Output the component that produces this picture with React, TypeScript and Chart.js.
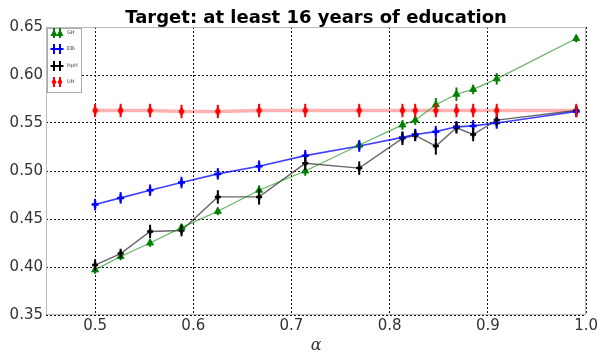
import React, { useEffect, useRef } from "react";
import { Chart, registerables } from "chart.js";

Chart.register(...registerables);

const titleText = "Target: at least 16 years of education";
const xLabel = "α";
const alphaValues = [0.5, 0.526, 0.556, 0.588, 0.625, 0.667, 0.714, 0.769, 0.813, 0.826, 0.847, 0.868, 0.885, 0.909, 0.99];
const greenValues = [0.397, 0.411, 0.425, 0.441, 0.458, 0.48, 0.5, 0.527, 0.548, 0.553, 0.569, 0.58, 0.585, 0.596, 0.638];
const greenErr = [0.004, 0.004, 0.004, 0.004, 0.004, 0.005, 0.005, 0.005, 0.005, 0.005, 0.007, 0.007, 0.005, 0.006, 0.004];
const blueValues = [0.465, 0.472, 0.48, 0.488, 0.497, 0.505, 0.516, 0.526, 0.535, 0.538, 0.541, 0.546, 0.547, 0.55, 0.562];
const blueErr = [0.006, 0.006, 0.006, 0.006, 0.006, 0.006, 0.006, 0.006, 0.006, 0.006, 0.006, 0.006, 0.006, 0.006, 0.006];
const blackValues = [0.402, 0.414, 0.437, 0.438, 0.473, 0.473, 0.508, 0.503, 0.534, 0.537, 0.526, 0.545, 0.538, 0.553, 0.563];
const blackErr = [0.006, 0.005, 0.007, 0.006, 0.007, 0.008, 0.007, 0.007, 0.007, 0.006, 0.009, 0.006, 0.007, 0.006, 0.005];
const redValues = [0.563, 0.563, 0.563, 0.562, 0.562, 0.563, 0.563, 0.563, 0.563, 0.563, 0.563, 0.563, 0.563, 0.563, 0.563];
const redErr = [0.007, 0.007, 0.007, 0.007, 0.007, 0.007, 0.007, 0.007, 0.007, 0.007, 0.007, 0.007, 0.007, 0.007, 0.007];
const seriesLabels = ["GH", "EBi", "HpH", "UH"];
const xTicks = [0.5, 0.6, 0.7, 0.8, 0.9, 1.0];
const yTicks = [0.35, 0.4, 0.45, 0.5, 0.55, 0.6, 0.65];

const toPts = (ys: number[]) => ys.map((y, i) => ({ x: alphaValues[i], y }));

function thinDiamond(color: string) {
  const c = document.createElement("canvas");
  c.width = 7;
  c.height = 11;
  const g = c.getContext("2d")!;
  g.fillStyle = color;
  g.beginPath();
  g.moveTo(3.5, 0.5);
  g.lineTo(6.5, 5.5);
  g.lineTo(3.5, 10.5);
  g.lineTo(0.5, 5.5);
  g.closePath();
  g.fill();
  return c;
}

export default function App() {
  const ref = useRef<HTMLCanvasElement>(null);
  useEffect(() => {
    document.body.style.margin = "0";
    const errs = [greenErr, blueErr, blackErr, redErr];
    const errColors = ["#008000", "#0000ff", "#000000", "#ff0000"];
    const errorBars = {
      id: "errorBars",
      afterDatasetsDraw(chart: any) {
        const ctx = chart.ctx;
        const ys = chart.scales.y;
        chart.data.datasets.forEach((ds: any, di: number) => {
          const meta = chart.getDatasetMeta(di);
          ctx.save();
          ctx.strokeStyle = errColors[di];
          ctx.lineWidth = 2;
          meta.data.forEach((pt: any, i: number) => {
            const v = ds.data[i].y;
            const e = errs[di][i];
            ctx.beginPath();
            ctx.moveTo(pt.x, ys.getPixelForValue(v - e));
            ctx.lineTo(pt.x, ys.getPixelForValue(v + e));
            ctx.stroke();
          });
          ctx.restore();
        });
      },
    };
    const extras = {
      id: "extras",
      afterDraw(chart: any) {
        const ctx = chart.ctx;
        const a = chart.chartArea;
        ctx.save();
        ctx.strokeStyle = "#bbbbbb";
        ctx.lineWidth = 1;
        ctx.strokeRect(a.left + 0.5, a.top + 0.5, a.right - a.left - 1, a.bottom - a.top - 1);
        ctx.fillStyle = "#000";
        ctx.font = "bold 18px 'DejaVu Sans'";
        ctx.textAlign = "center";
        ctx.textBaseline = "alphabetic";
        ctx.fillText(titleText, (a.left + a.right) / 2, 23);
        const lx = a.left + 1, ly = a.top + 1, lw = 34, lh = 64;
        ctx.fillStyle = "#fff";
        ctx.fillRect(lx, ly, lw, lh);
        ctx.strokeStyle = "#aaa";
        ctx.strokeRect(lx + 0.5, ly + 0.5, lw, lh);
        const rows = [33, 49, 66, 82];
        chart.data.datasets.forEach((ds: any, di: number) => {
          const y = rows[di];
          [lx + 7, lx + 13].forEach((mx) => {
            ctx.strokeStyle = errColors[di];
            ctx.lineWidth = 2;
            ctx.beginPath();
            ctx.moveTo(mx, y - 5);
            ctx.lineTo(mx, y + 5);
            ctx.stroke();
            ctx.fillStyle = errColors[di];
            ctx.beginPath();
            if (di === 0) {
              ctx.moveTo(mx, y - 4);
              ctx.lineTo(mx + 3.5, y + 3);
              ctx.lineTo(mx - 3.5, y + 3);
              ctx.closePath();
              ctx.fill();
            } else if (di === 3) {
              ctx.moveTo(mx, y - 4);
              ctx.lineTo(mx + 2.5, y);
              ctx.lineTo(mx, y + 4);
              ctx.lineTo(mx - 2.5, y);
              ctx.closePath();
              ctx.fill();
            } else {
              ctx.moveTo(mx - 3.5, y);
              ctx.lineTo(mx + 3.5, y);
              ctx.stroke();
            }
          });
          ctx.fillStyle = "#444";
          ctx.font = "5px 'DejaVu Sans'";
          ctx.textAlign = "left";
          ctx.textBaseline = "middle";
          ctx.fillText(ds.label, lx + 20, y);
        });
        ctx.restore();
      },
    };
    const chart = new Chart(ref.current!, {
      type: "line",
      data: {
        datasets: [
          {
            label: seriesLabels[0],
            data: toPts(greenValues),
            borderColor: "rgba(0,128,0,0.6)",
            borderWidth: 1.2,
            pointStyle: "triangle",
            pointRadius: 4,
            pointBackgroundColor: "#008000",
            pointBorderColor: "#008000",
            pointBorderWidth: 1,
          },
          {
            label: seriesLabels[1],
            data: toPts(blueValues),
            borderColor: "rgba(0,0,255,0.75)",
            borderWidth: 1.6,
            pointStyle: "cross",
            pointRadius: 3.5,
            pointBorderWidth: 2.5,
            pointBorderColor: "#0000ff",
          },
          {
            label: seriesLabels[2],
            data: toPts(blackValues),
            borderColor: "rgba(0,0,0,0.6)",
            borderWidth: 1.4,
            pointStyle: "cross",
            pointRadius: 3,
            pointBorderWidth: 2.5,
            pointBorderColor: "#000",
          },
          {
            label: seriesLabels[3],
            data: toPts(redValues),
            borderColor: "rgba(255,0,0,0.3)",
            borderWidth: 3.5,
            pointStyle: thinDiamond("#ff0000"),
            pointRadius: 4,
            pointBackgroundColor: "#ff0000",
            pointBorderColor: "#ff0000",
          },
        ],
      },
      options: {
        animation: false,
        responsive: false,
        layout: { padding: { left: 0, right: 12, top: 27, bottom: 0 } },
        plugins: { legend: { display: false }, tooltip: { enabled: false } },
        scales: {
          x: {
            type: "linear",
            min: 0.45,
            max: 1.0,
            afterBuildTicks: (s: any) => { s.ticks = xTicks.map((v) => ({ value: v })); },
            afterFit: (s: any) => { s.height = 40; },
            ticks: {
              color: "#333",
              font: { family: "DejaVu Sans", size: 15 },
              padding: 2,
              callback: (v: any) => Number(v).toFixed(1),
            },
            grid: { color: "#111", lineWidth: 1, drawTicks: false },
            border: { display: false, dash: [2, 2] },
            title: { display: true, text: xLabel, color: "#333", font: { family: "DejaVu Serif", size: 16, style: "italic" }, padding: 0 },
          },
          y: {
            type: "linear",
            min: 0.35,
            max: 0.65,
            afterBuildTicks: (s: any) => { s.ticks = yTicks.map((v) => ({ value: v })); },
            afterFit: (s: any) => { s.width = 46; },
            ticks: {
              color: "#333",
              font: { family: "DejaVu Sans", size: 15 },
              padding: 3,
              callback: (v: any) => Number(v).toFixed(2),
            },
            grid: { color: "#111", lineWidth: 1, drawTicks: false },
            border: { display: false, dash: [2, 2] },
          },
        },
      },
      plugins: [errorBars, extras],
    } as any);
    return () => chart.destroy();
  }, []);
  return (
    <div style={{ width: 600, height: 355 }}>
      <canvas ref={ref} width={600} height={355} style={{ width: 600, height: 355 }} />
    </div>
  );
}
